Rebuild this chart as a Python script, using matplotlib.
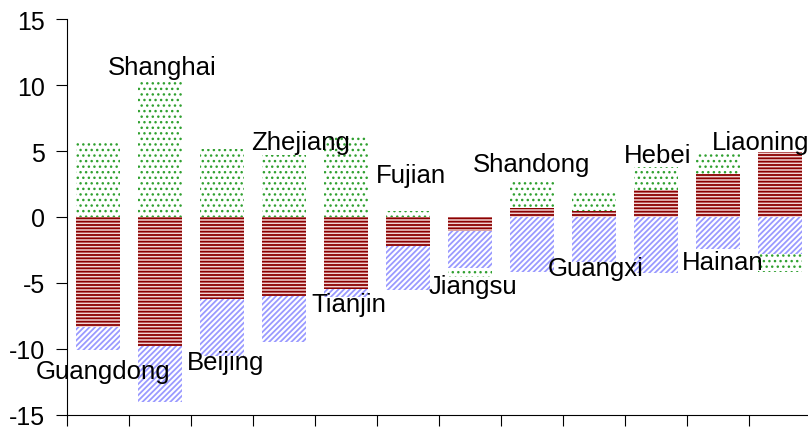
# coding: utf-8
import numpy as np
import matplotlib
matplotlib.use("Agg")
import matplotlib.pyplot as plt

provinces = ["Guangdong", "Shanghai", "Beijing", "Zhejiang", "Tianjin", "Fujian",
             "Jiangsu", "Shandong", "Guangxi", "Hebei", "Hainan", "Liaoning"]

# three stacked series (Excel-like stacking: series order red, blue, green)
red = [-8.3, -9.8, -6.2, -6.0, -5.45, -2.2, -1.05, 0.68, 0.48, 2.07, 3.26, 4.9]
blue = [-1.75, -4.2, -4.3, -3.45, -0.63, -3.35, -2.82, -4.14, -3.4, -4.27, -2.42, -2.8]
green = [5.6, 10.45, 5.15, 4.7, 6.2, 0.45, -0.66, 2.2, 1.52, 1.73, 1.64, -1.4]

# label positions (x centre, y centre) in data units
label_x = [0.08, 1.03, 2.05, 3.27, 4.05, 5.05, 6.05, 7.0, 8.03, 9.03, 10.08, 10.68]
label_y = [-11.7, 11.4, -11.0, 5.7, -6.6, 3.2, -5.2, 4.0, -3.9, 4.7, -3.4, 5.7]

plt.rcParams['font.family'] = ['Liberation Sans', 'DejaVu Sans']
plt.rcParams['axes.unicode_minus'] = False

fig = plt.figure(figsize=(8.08, 4.31), dpi=100)
ax = fig.add_axes([67 / 808, 15 / 431, 744 / 808, 396 / 431])

x = np.arange(len(provinces))
pos_base = np.zeros(len(x))
neg_base = np.zeros(len(x))

# (values, face colour, hatch colour, hatch, hatch line width)
styles = [
    (red, "#f2d4d4", "#8b0000", "-----", 1.3),
    (blue, "white", "#9a9aff", "//////", 1.3),
    (green, "white", "#30a030", "...", 1.0),
]
for vals, face, hcol, hatch, lw in styles:
    vals = np.array(vals)
    bottom = np.where(vals >= 0, pos_base, neg_base)
    with plt.rc_context({'hatch.linewidth': lw}):
        ax.bar(x, vals, width=0.7, bottom=bottom, color=face, edgecolor=hcol,
               hatch=hatch, linewidth=0)
    pos_base = pos_base + np.where(vals >= 0, vals, 0)
    neg_base = neg_base + np.where(vals < 0, vals, 0)

for name, lx, ly in zip(provinces, label_x, label_y):
    ax.text(lx, ly, name, ha="center", va="center", fontsize=18.5)

ax.set_xlim(-0.5, 11.5)
ax.set_ylim(-15, 15)
ax.set_yticks(np.arange(-15, 16, 5))
ax.set_xticks(np.arange(-0.5, 12, 1))
ax.set_xticklabels([])
ax.tick_params(axis="y", labelsize=18, length=8, direction="out", pad=8)
ax.tick_params(axis="x", length=8, direction="out")
ax.spines["top"].set_visible(False)
ax.spines["right"].set_visible(False)

fig.savefig("out.png", dpi=100)
